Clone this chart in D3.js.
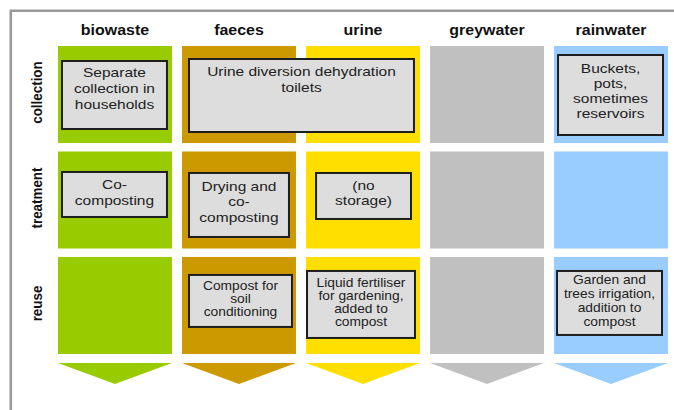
<!DOCTYPE html>
<html>
<head>
<meta charset="utf-8">
<script src="https://cdn.jsdelivr.net/npm/d3@7"></script>
<style>
  body { margin: 0; background: #fff; }
  svg { display: block; font-family: "Liberation Sans", Arial, sans-serif; }
</style>
</head>
<body>
<svg id="chart"></svg>
<script>
// Column categories (flows) and row stages
const categories = ['biowaste', 'faeces', 'urine', 'greywater', 'rainwater'];
const stages = ['collection', 'treatment', 'reuse'];

// Text boxes: which cell they sit in, how many columns they span, their lines
const boxes = [
    { category: 'biowaste', stage: 'collection', span: 1, lines: ['Separate', 'collection in', 'households'] },
    { category: 'faeces', stage: 'collection', span: 2, lines: ['Urine diversion dehydration', 'toilets'] },
    { category: 'rainwater', stage: 'collection', span: 1, lines: ['Buckets,', 'pots,', 'sometimes', 'reservoirs'] },
    { category: 'biowaste', stage: 'treatment', span: 1, lines: ['Co-', 'composting'] },
    { category: 'faeces', stage: 'treatment', span: 1, lines: ['Drying and', 'co-', 'composting'] },
    { category: 'urine', stage: 'treatment', span: 1, lines: ['(no', 'storage)'] },
    { category: 'faeces', stage: 'reuse', span: 1, lines: ['Compost for', 'soil', 'conditioning'] },
    { category: 'urine', stage: 'reuse', span: 1, lines: ['Liquid fertiliser', 'for gardening,', 'added to', 'compost'] },
    { category: 'rainwater', stage: 'reuse', span: 1, lines: ['Garden and', 'trees irrigation,', 'addition to', 'compost'] }
];

// Placement of each box inside its cell (same order as boxes)
// dx0/dx1: inset from left / right of the spanned columns, dy: offset from row top
const boxLayout = [
    { dx0: 4, dx1: 5, dy: 15, h: 68, first: 16, lh: 16, size: 13.6 },
    { dx0: 7, dx1: 6, dy: 13, h: 73, first: 17, lh: 16, size: 13.6 },
    { dx0: 4, dx1: 5, dy: 9, h: 80, first: 18, lh: 15, size: 13.6 },
    { dx0: 4, dx1: 5, dy: 20.5, h: 45, first: 17, lh: 16, size: 13.6 },
    { dx0: 7, dx1: 7, dy: 21.5, h: 64, first: 18, lh: 15.5, size: 13.6 },
    { dx0: 10, dx1: 9, dy: 21.5, h: 46, first: 17, lh: 15.5, size: 13.6 },
    { dx0: 7, dx1: 4, dy: 18, h: 52, first: 15, lh: 13, size: 12.1 },
    { dx0: 1, dx1: 5, dy: 14, h: 67, first: 16, lh: 13, size: 12.1 },
    { dx0: 3, dx1: 6, dy: 14, h: 64, first: 13.5, lh: 13.7, size: 12.1 }
];

const width = 674, height = 410;
const stretch = 1.14; // text in the source is drawn a little wide

const svg = d3.select('#chart')
    .attr('width', width)
    .attr('height', height);

// Scales: columns and rows are bands
const xScale = d3.scaleBand()
    .domain(categories)
    .range([58, 668])
    .paddingInner(0.081);

const yScale = d3.scaleBand()
    .domain(stages)
    .range([46, 354])
    .paddingInner(0.08);

const colorScale = d3.scaleOrdinal()
    .domain(categories)
    .range(['#99cc00', '#cc9900', '#ffdf00', '#c0c0c0', '#99ccff']);

// Frame (only top and left edges are visible)
svg.append('path')
    .attr('d', `M10.8,${height} V10.8 H${width}`)
    .attr('fill', 'none')
    .attr('stroke', '#9a9a9a')
    .attr('stroke-width', 2.6);

// Column headers
svg.selectAll('.col-label')
    .data(categories)
    .join('text')
    .attr('class', 'col-label')
    .attr('transform', d => `translate(${xScale(d) + xScale.bandwidth() / 2},35) scale(${stretch},1)`)
    .attr('text-anchor', 'middle')
    .attr('font-size', 14)
    .attr('font-weight', 'bold')
    .attr('fill', '#111')
    .text(d => d);

// Row labels, rotated
svg.selectAll('.row-label')
    .data(stages)
    .join('text')
    .attr('class', 'row-label')
    .attr('transform', d => `translate(42,${yScale(d) + yScale.bandwidth() / 2 - 2}) scale(${stretch},1) rotate(-90)`)
    .attr('text-anchor', 'middle')
    .attr('font-size', 13.4)
    .attr('font-weight', 'bold')
    .attr('fill', '#111')
    .text(d => d);

// Coloured cells
const cells = d3.cross(categories, stages).map(([c, s]) => ({ category: c, stage: s }));

svg.selectAll('.cell')
    .data(cells)
    .join('rect')
    .attr('class', 'cell')
    .attr('x', d => xScale(d.category))
    .attr('y', d => yScale(d.stage))
    .attr('width', xScale.bandwidth())
    .attr('height', yScale.bandwidth())
    .attr('fill', d => colorScale(d.category));

// Down arrows under each column
const arrowTop = yScale(stages[stages.length - 1]) + yScale.bandwidth() + 9;
const arrowTip = arrowTop + 21;

svg.selectAll('.arrow')
    .data(categories)
    .join('path')
    .attr('class', 'arrow')
    .attr('d', d => {
        const x0 = xScale(d), x1 = x0 + xScale.bandwidth();
        return `M${x0},${arrowTop} L${x1},${arrowTop} L${(x0 + x1) / 2},${arrowTip} Z`;
    })
    .attr('fill', d => colorScale(d));

// Grey text boxes
const boxData = boxes.map((b, i) => {
    const lay = boxLayout[i];
    const startIdx = categories.indexOf(b.category);
    const endCat = categories[startIdx + b.span - 1];
    const x0 = xScale(b.category) + lay.dx0;
    const x1 = xScale(endCat) + xScale.bandwidth() - lay.dx1;
    const y0 = yScale(b.stage) + lay.dy;
    return { ...b, ...lay, x0, x1, y0 };
});

const boxG = svg.selectAll('.box')
    .data(boxData)
    .join('g')
    .attr('class', 'box');

boxG.append('rect')
    .attr('x', d => d.x0)
    .attr('y', d => d.y0)
    .attr('width', d => d.x1 - d.x0)
    .attr('height', d => d.h)
    .attr('fill', '#dddddd')
    .attr('stroke', '#1e1e1e')
    .attr('stroke-width', 2);

boxG.each(function(d) {
    const cx = (d.x0 + d.x1) / 2;
    d3.select(this).selectAll('text')
        .data(d.lines)
        .join('text')
        .attr('transform', (t, i) => `translate(${cx},${d.y0 + d.first + i * d.lh}) scale(${stretch},1)`)
        .attr('text-anchor', 'middle')
        .attr('font-size', d.size)
        .attr('fill', '#222')
        .text(t => t);
});
</script>
</body>
</html>
